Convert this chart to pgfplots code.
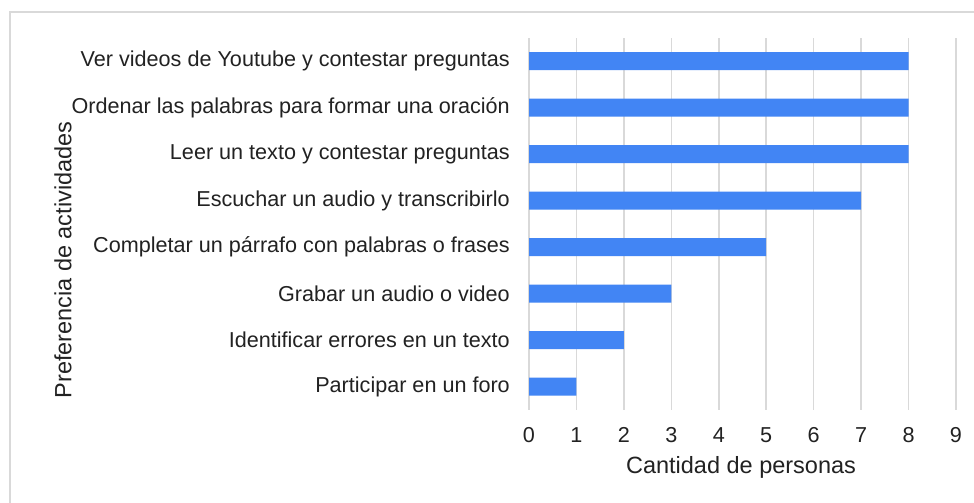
\documentclass[border=0pt]{standalone}
\usepackage{pgfplots}
\pgfplotsset{compat=1.18}
\usepackage{fontspec}
\setmainfont{Liberation Sans}
\definecolor{barblue}{HTML}{4285F4}
\definecolor{gridgray}{HTML}{D9D9D9}
\definecolor{txt}{HTML}{222222}
\begin{document}
\begin{tikzpicture}[x=1pt,y=1pt]
\useasboundingbox (0,0) rectangle (974,503);
\fill[white] (0,0) rectangle (974,503);
\draw[gridgray, line width=1.5pt] (10,0) -- (10,491) -- (974,491);
\begin{axis}[
  at={(529pt,93pt)}, anchor=south west,
  scale only axis, width=427pt, height=372pt,
  xbar, bar width=18pt, bar shift=0pt,
  xmin=0, xmax=9, ymin=-0.5, ymax=7.5,
  xtick={0,1,...,9},
  ytick={0,1,...,7},
  yticklabels={Participar en un foro, Identificar errores en un texto, Grabar un audio o video, Completar un párrafo con palabras o frases, Escuchar un audio y transcribirlo, Leer un texto y contestar preguntas, Ordenar las palabras para formar una oración, Ver videos de Youtube y contestar preguntas},
  major tick length=0pt,
  axis line style={draw=none},
  xmajorgrids, major grid style={gridgray, line width=1.5pt},
  /pgf/number format/assume math mode=true,
  tick label style={font=\fontsize{21.6}{25}\selectfont, text=txt},
  yticklabel style={anchor=east, inner sep=0pt, xshift=-19pt},
  xticklabel style={anchor=north, inner sep=0pt, yshift=-17pt},
]
\addplot[fill=barblue, draw=none] coordinates {(1,0) (2,1) (3,2) (5,3) (7,4) (8,5) (8,6) (8,7)};
\end{axis}
\node[text=txt, font=\fontsize{23.5}{27}\selectfont] at (741,36) {Cantidad de personas};
\node[text=txt, font=\fontsize{23.5}{27}\selectfont, rotate=90] at (63,243) {Preferencia de actividades};
\end{tikzpicture}
\end{document}
